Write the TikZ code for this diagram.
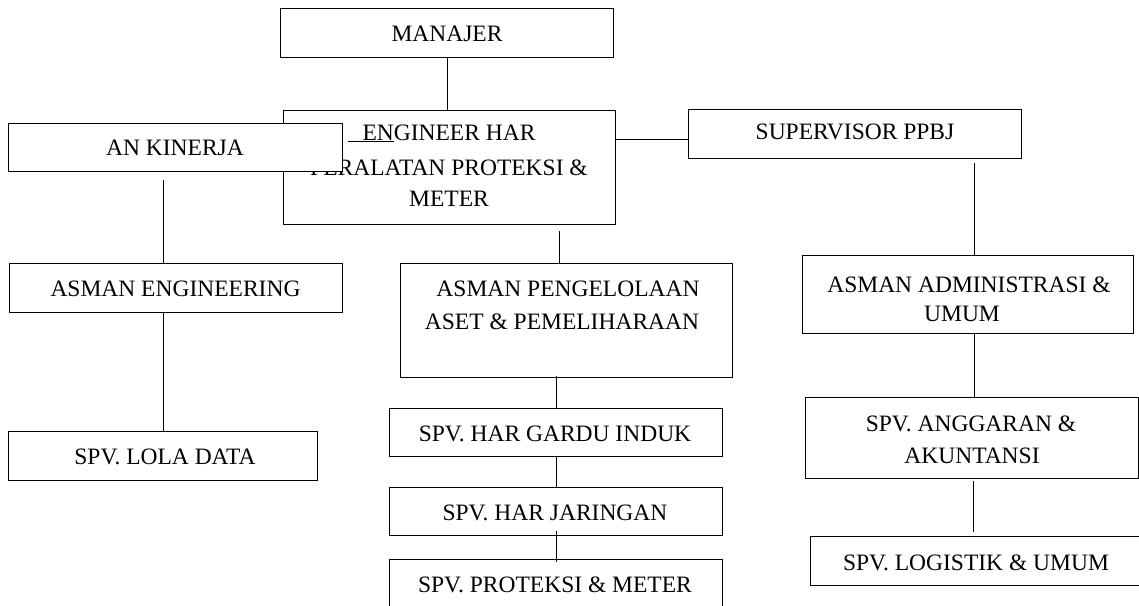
\documentclass[tikz,border=0pt]{standalone}
\usepackage{fontspec}
\setmainfont{Liberation Serif}
\newlength\enwd
\tikzset{
  box/.style={draw=black, line width=1pt, fill=white, inner sep=0pt, anchor=north west},
  txt/.style={inner sep=0pt, anchor=base, font=\fontsize{23.5}{27}\selectfont},
  conn/.style={draw=black, line width=1pt}
}
\begin{document}
\begin{tikzpicture}[x=1pt,y=-1pt]
\path[use as bounding box] (0,0) rectangle (1139,605);
\clip (0,0) rectangle (1139,605);

% top
\node[box, minimum width=333pt, minimum height=49pt] (man) at (280,8) {};
\node[txt] (mant) at (447,41) {MANAJER};

\node[box, minimum width=332pt, minimum height=114pt] (eng) at (283,110) {};
\node[txt] (engt1) at (449,140) {\settowidth{\enwd}{EN}\llap{\rule[-1.5pt]{15pt}{1pt}}\rlap{\rule[-1.5pt]{\enwd}{1pt}}ENGINEER HAR};
\node[txt] (engt2) at (449,175) {PERALATAN PROTEKSI \&};
\node[txt] (engt3) at (449,206) {METER};

\node[box, minimum width=334pt, minimum height=48pt] (ank) at (8,123) {};
\node[txt] (ankt) at (175,155) {AN KINERJA};

\node[box, minimum width=333pt, minimum height=49pt] (sup) at (688,109) {};
\node[txt] (supt) at (855,139) {SUPERVISOR PPBJ};

% left column
\node[box, minimum width=333pt, minimum height=49pt] (aseng) at (9,263) {};
\node[txt] (asengt) at (175.5,296) {ASMAN ENGINEERING};

\node[box, minimum width=309pt, minimum height=49pt] (lola) at (8,431) {};
\node[txt] (lolat) at (165,464) {SPV. LOLA DATA};

% middle column
\node[box, minimum width=332pt, minimum height=114pt] (asp) at (400,263) {};
\node[txt] (aspt1) at (568,296) {ASMAN PENGELOLAAN};
\node[txt] (aspt2) at (562,329) {ASET \& PEMELIHARAAN};

\node[box, minimum width=333pt, minimum height=48pt] (gardu) at (389,408) {};
\node[txt] (gardut) at (555,441) {SPV. HAR GARDU INDUK};

\node[box, minimum width=333pt, minimum height=48pt] (jar) at (389,487) {};
\node[txt] (jart) at (555,520) {SPV. HAR JARINGAN};

\node[box, minimum width=333pt, minimum height=50pt] (pro) at (389,559) {};
\node[txt] (prot) at (555,592) {SPV. PROTEKSI \& METER};

% right column
\node[box, minimum width=331pt, minimum height=78pt] (adm) at (802,255) {};
\node[txt] (admt1) at (969,292) {ASMAN ADMINISTRASI \&};
\node[txt] (admt2) at (962,321) {UMUM};

\node[box, minimum width=333pt, minimum height=81pt] (ang) at (805,397) {};
\node[txt] (angt1) at (971,431) {SPV. ANGGARAN \&};
\node[txt] (angt2) at (972,463) {AKUNTANSI};

\node[box, minimum width=340pt, minimum height=49pt] (log) at (810,536) {};
\node[txt] (logt) at (976,570) {SPV. LOGISTIK \& UMUM};

% connectors
\draw[conn] (man.south) -- (man.south |- eng.north);
\draw[conn] ([yshift=28pt]eng.east) -- ([yshift=28pt]eng.east -| sup.west);
\draw[conn, shorten <=8pt] ([xshift=-12pt]ank.south) -- ([xshift=-12pt]ank.south |- aseng.north);
\draw[conn] ([xshift=-12.5pt]aseng.south) -- ([xshift=-12.5pt]aseng.south |- lola.north);
\draw[conn, shorten <=6pt] ([xshift=110pt]eng.south) -- ([xshift=110pt]eng.south |- asp.north);
\draw[conn, shorten <=-2pt] ([xshift=-10pt]asp.south) -- ([xshift=-10pt]asp.south |- gardu.north);
\draw[conn] ([xshift=0.5pt]gardu.south) -- ([xshift=0.5pt]gardu.south |- jar.north);
\draw[conn, shorten <=-5pt, shorten >=-3pt] ([xshift=0.5pt]jar.south) -- ([xshift=0.5pt]jar.south |- pro.north);
\draw[conn, shorten <=4pt] ([xshift=119.5pt]sup.south) -- ([xshift=119.5pt]sup.south |- adm.north);
\draw[conn] ([xshift=6.5pt]adm.south) -- ([xshift=6.5pt]adm.south |- ang.north);
\draw[conn, shorten <=2pt, shorten >=4pt] ([xshift=1.5pt]ang.south) -- ([xshift=1.5pt]ang.south |- log.north);
\end{tikzpicture}
\end{document}
